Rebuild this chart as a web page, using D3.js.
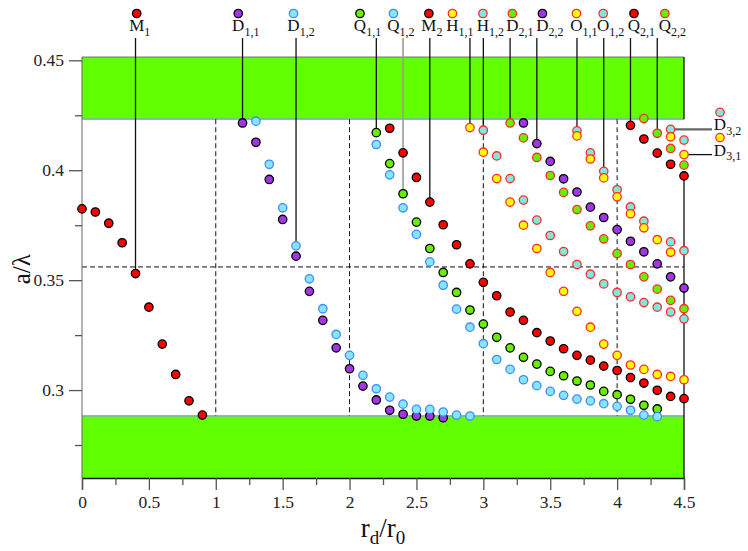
<!DOCTYPE html>
<meta charset="utf-8">
<style>
    body { margin: 0; background: #fff; }
    svg text { font-family: "Times New Roman", "Liberation Serif", Times, "DejaVu Serif", serif; }
</style>
<body>
    <div id="chart"></div>
</body>
<script src="https://cdn.jsdelivr.net/npm/d3@7/dist/d3.min.js"></script>
<script>
    var svg_width = 748,
        svg_height = 551;

    var serif = '"Times New Roman", "Liberation Serif", Times, "DejaVu Serif", serif';

    // bands (gaps) and guide lines, in axis units
    var upperBand = [0.4232, 0.4515];
    var lowerBand = [0.26, 0.2883];
    var guideX = [1, 2, 3, 4];
    var guideY = 0.356;

    // mode curves: [r_d/r_0, a/lambda]
    var M1 = [[0,0.3824],[0.1,0.3810],[0.2,0.3759],[0.3,0.3670],[0.4,0.3530],[0.5,0.3377],[0.6,0.3209],[0.7,0.3071],[0.8,0.2951],[0.9,0.2886]];
    var M2 = [[2.3,0.4191],[2.4,0.4079],[2.5,0.3967],[2.6,0.3855],[2.7,0.3752],[2.8,0.3661],[2.9,0.3574],[3.0,0.3490],[3.1,0.3429],[3.2,0.3355],[3.3,0.3317],[3.4,0.3261],[3.5,0.3223],[3.6,0.3188],[3.7,0.3158],[3.8,0.3136],[3.9,0.3109],[4.0,0.3089],[4.1,0.3057],[4.2,0.3032],[4.3,0.2999],[4.4,0.2971],[4.5,0.2961]];
    var D11 = [[1.2,0.4215],[1.3,0.4127],[1.4,0.3958],[1.5,0.3776],[1.6,0.3609],[1.7,0.3449],[1.8,0.3317],[1.9,0.3192],[2.0,0.3097],[2.1,0.3018],[2.2,0.2955],[2.3,0.2908],[2.4,0.2890],[2.5,0.2882],[2.6,0.2882],[2.7,0.2874]];
    var D12 = [[1.3,0.4223],[1.4,0.4027],[1.5,0.3829],[1.6,0.3656],[1.7,0.3506],[1.8,0.3370],[1.9,0.3253],[2.0,0.3158],[2.1,0.3067],[2.2,0.3006],[2.3,0.2968],[2.4,0.2936],[2.5,0.2912],[2.6,0.2912],[2.7,0.2900],[2.8,0.2886],[2.9,0.2882]];
    var Q11 = [[2.2,0.4171],[2.3,0.4030],[2.4,0.3893],[2.5,0.3764],[2.6,0.3644],[2.7,0.3535],[2.8,0.3444],[2.9,0.3364],[3.0,0.3300],[3.1,0.3240],[3.2,0.3192],[3.3,0.3149],[3.4,0.3118],[3.5,0.3085],[3.6,0.3065],[3.7,0.3041],[3.8,0.3023],[3.9,0.2994],[4.0,0.2979],[4.1,0.2958],[4.2,0.2931],[4.3,0.2914]];
    var Q12 = [[2.2,0.4117],[2.3,0.3979],[2.4,0.3829],[2.5,0.3708],[2.6,0.3583],[2.7,0.3477],[2.8,0.3368],[2.9,0.3286],[3.0,0.3211],[3.1,0.3139],[3.2,0.3094],[3.3,0.3047],[3.4,0.3020],[3.5,0.2994],[3.6,0.2976],[3.7,0.2959],[3.8,0.2951],[3.9,0.2938],[4.0,0.2926],[4.1,0.2908],[4.2,0.2886],[4.3,0.2879]];
    var H11 = [[2.9,0.4194],[3.0,0.4082],[3.1,0.3962],[3.2,0.3855],[3.3,0.3750],[3.4,0.3644],[3.5,0.3535],[3.6,0.3449],[3.7,0.3358],[3.8,0.3286],[3.9,0.3209],[4.0,0.3158],[4.1,0.3114],[4.2,0.3094],[4.3,0.3071],[4.4,0.3062],[4.5,0.3047]];
    var H12 = [[3.0,0.4182],[3.1,0.4065],[3.2,0.3962],[3.3,0.3864],[3.4,0.3773],[3.5,0.3703],[3.6,0.3630],[3.7,0.3571],[3.8,0.3527],[3.9,0.3483],[4.0,0.3444],[4.1,0.3424],[4.2,0.3398],[4.3,0.3377],[4.4,0.3355],[4.5,0.3324]];
    var D21 = [[3.2,0.4215],[3.3,0.4147],[3.4,0.4058],[3.5,0.3976],[3.6,0.3899],[3.7,0.3821],[3.8,0.3747],[3.9,0.3688],[4.0,0.3621],[4.1,0.3571],[4.2,0.3515],[4.3,0.3459],[4.4,0.3408],[4.5,0.3370]];
    var D22 = [[3.3,0.4215],[3.4,0.4121],[3.5,0.4040],[3.6,0.3961],[3.7,0.3901],[3.8,0.3832],[3.9,0.3785],[4.0,0.3730],[4.1,0.3677],[4.2,0.3629],[4.3,0.3574],[4.4,0.3515],[4.5,0.3464]];
    var O11 = [[3.7,0.4156],[3.8,0.4051],[3.9,0.3965],[4.0,0.3879],[4.1,0.3802],[4.2,0.3738],[4.3,0.3684],[4.4,0.3627]];
    var O12 = [[3.7,0.4179],[3.8,0.4079],[3.9,0.3995],[4.0,0.3911],[4.1,0.3833],[4.2,0.3768],[4.4,0.3674],[4.5,0.3634]];
    var Q21 = [[4.1,0.4204],[4.2,0.4142],[4.3,0.4078],[4.4,0.4027],[4.5,0.3974]];
    var Q22 = [[4.2,0.4235],[4.3,0.4168],[4.4,0.4099],[4.5,0.4023]];
    var D31 = [[4.4,0.4152],[4.5,0.4071]];
    var D32 = [[4.4,0.4186],[4.5,0.4137]];

    // labels along the top
    var tagName = ["M","D","D","Q","Q","M","H","H","D","D","O","O","Q","Q"];
    var tagSub  = ["1","1,1","1,2","1,1","1,2","2","1,1","1,2","2,1","2,2","1,1","1,2","2,1","2,2"];
    var tagAt   = [0.409,1.168,1.581,2.078,2.328,2.593,2.769,2.997,3.217,3.442,3.696,3.896,4.126,4.357];
    var tagPoint = [[0.4,0.3530],[1.2,0.4215],[1.6,0.3656],[2.2,0.4171],[2.4,0.3893],[2.6,0.3855],[2.9,0.4194],[3.0,0.4182],[3.2,0.4215],[3.4,0.4121],[3.7,0.4156],[3.9,0.3995],[4.1,0.4204],[4.3,0.4168]];
    var tagStyle = ["M","D11","D12","Q11","Q12","M","H11","H12","D21","D22","O11","O12","Q21","Q22"];

    var xMajor = [0,0.5,1,1.5,2,2.5,3,3.5,4,4.5];
    var xMinor = [0.25,0.75,1.25,1.75,2.25,2.75,3.25,3.75,4.25];
    var yMajor = [0.3,0.35,0.4,0.45];
    var yMinor = [0.275,0.325,0.375,0.425];

    var red = "#ff0000", purple = "#a236e6", lime = "#66f000", yellow = "#ffff00",
        sky = "#88e4ff", turq = "#80e8da", edgeRed = "#ff2a2a", edgeBlue = "#3b8cff";

    var styles = {
        M:   { fill: red,    stroke: "#000" },
        D11: { fill: purple, stroke: "#000" },
        D12: { fill: sky,    stroke: edgeBlue },
        Q11: { fill: lime,   stroke: "#000" },
        Q12: { fill: sky,    stroke: edgeBlue },
        H11: { fill: yellow, stroke: edgeRed },
        H12: { fill: turq,   stroke: edgeRed },
        D21: { fill: lime,   stroke: edgeRed },
        D22: { fill: purple, stroke: "#000" },
        O11: { fill: yellow, stroke: edgeRed },
        O12: { fill: turq,   stroke: edgeRed },
        Q21: { fill: red,    stroke: "#000" },
        Q22: { fill: lime,   stroke: edgeRed },
        D31: { fill: yellow, stroke: edgeRed },
        D32: { fill: turq,   stroke: edgeRed }
    };

    var series = [
        { key: "M", pts: M1 }, { key: "D11", pts: D11 }, { key: "D12", pts: D12 },
        { key: "M", pts: M2 }, { key: "Q11", pts: Q11 }, { key: "Q12", pts: Q12 },
        { key: "H11", pts: H11 }, { key: "H12", pts: H12 },
        { key: "D21", pts: D21 }, { key: "D22", pts: D22 },
        { key: "O12", pts: O12 }, { key: "O11", pts: O11 },
        { key: "Q21", pts: Q21 }, { key: "Q22", pts: Q22 },
        { key: "D32", pts: D32 }, { key: "D31", pts: D31 }
    ];

    var x = d3.scaleLinear().domain([0, 4.5]).range([82, 684]);
    var y = d3.scaleLinear().domain([0.26, 0.4515]).range([478, 57]);
    var r = 4.2;

    var svg = d3.select("#chart").append("svg")
        .attr("width", svg_width)
        .attr("height", svg_height)
        .style("font-family", serif);

    // green bands
    [upperBand, lowerBand].forEach(function(b){
        svg.append("rect")
            .attr("x", x(0)).attr("width", x(4.5) - x(0))
            .attr("y", y(b[1])).attr("height", y(b[0]) - y(b[1]))
            .style("fill", "#62ff00");
    });
    svg.append("line")
        .attr("x1", x(0)).attr("x2", x(4.5))
        .attr("y1", y(upperBand[1])).attr("y2", y(upperBand[1]))
        .style("stroke", "#555").style("stroke-width", 0.8);
    [upperBand[0], lowerBand[1]].forEach(function(v){
        svg.append("line")
            .attr("x1", x(0)).attr("x2", x(4.5))
            .attr("y1", y(v)).attr("y2", y(v))
            .style("stroke", "#8a8aff").style("stroke-width", 1.3);
    });

    // dashed guides
    var guides = svg.append("g")
        .style("stroke", "#111").style("stroke-width", 1).style("stroke-dasharray", "5,3");
    guides.selectAll("line.v").data(guideX).enter().append("line")
        .attr("class", "v")
        .attr("x1", function(d){ return x(d); }).attr("x2", function(d){ return x(d); })
        .attr("y1", y(upperBand[0])).attr("y2", y(lowerBand[1]));
    guides.append("line")
        .attr("x1", x(0)).attr("x2", x(4.5))
        .attr("y1", y(guideY)).attr("y2", y(guideY));

    // axes
    var fmt = function(d){ return String(+d.toFixed(2)); };
    var gx = svg.append("g").attr("transform", "translate(0," + y(0.26) + ")");
    gx.call(d3.axisBottom(x).tickValues(xMajor).tickSize(12).tickPadding(6).tickFormat(fmt));
    gx.append("g").call(d3.axisBottom(x).tickValues(xMinor).tickSize(7).tickFormat(""))
        .select(".domain").remove();

    var gy = svg.append("g").attr("transform", "translate(" + x(0) + ",0)");
    gy.call(d3.axisLeft(y).tickValues(yMajor).tickSize(13).tickPadding(5).tickFormat(fmt));
    gy.append("g").call(d3.axisLeft(y).tickValues(yMinor).tickSize(7).tickFormat(""))
        .select(".domain").remove();
    gy.select(".domain").attr("d", "M0," + y(0.4515) + "V" + y(0.26)).style("stroke", "#666");

    svg.selectAll("g").attr("font-family", null);
    svg.selectAll(".tick line").style("stroke", "#555").style("stroke-width", 1.3);
    svg.selectAll(".tick text")
        .style("font-family", serif).style("font-size", "17.5px").style("fill", "#222");
    gx.select(".domain").style("stroke", "#111").style("stroke-width", 1.3);

    // right frame: only over the top band and below the Q2,1 point
    svg.append("path")
        .attr("d", "M" + x(4.5) + "," + y(upperBand[1]) + "V" + y(upperBand[0]) +
                   "M" + x(4.5) + "," + y(Q21[Q21.length - 1][1]) + "V" + y(0.26))
        .style("stroke", "#111").style("stroke-width", 1.3).style("fill", "none");

    // leader lines from the top labels
    var top_line = 38, top_mark = 13.5, top_text = 31;
    svg.append("g").selectAll("line")
        .data(tagPoint).enter().append("line")
            .attr("x1", function(d){ return x(d[0]); })
            .attr("x2", function(d){ return x(d[0]); })
            .attr("y1", top_line)
            .attr("y2", function(d){ return y(d[1]); })
            .style("stroke", function(d, i){ return tagStyle[i] == "Q12" ? "#9a9a9a" : "#111"; })
            .style("stroke-width", function(d, i){ return tagStyle[i] == "Q12" ? 1.6 : 1.3; });

    // right-hand labels D3,1 and D3,2
    var side_x = x(4.5) + 28;
    var sideTags = [{ sub: "3,2", pt: D32[0], key: "D32", col: "#666", w: 2.2 },
                    { sub: "3,1", pt: D31[1], key: "D31", col: "#111", w: 1.3 }];
    sideTags.forEach(function(t){
        var yy = y(t.pt[1]);
        svg.append("line")
            .attr("x1", x(t.pt[0])).attr("x2", side_x)
            .attr("y1", yy).attr("y2", yy)
            .style("stroke", t.col).style("stroke-width", t.w);
    });

    // points
    var dots = svg.append("g");
    series.forEach(function(s){
        dots.append("g").selectAll("circle")
            .data(s.pts).enter().append("circle")
                .attr("cx", function(d){ return x(d[0]); })
                .attr("cy", function(d){ return y(d[1]); })
                .attr("r", r)
                .style("fill", styles[s.key].fill)
                .style("stroke", styles[s.key].stroke)
                .style("stroke-width", 1.3);
    });

    // top label text + marker
    function add_tag(cx, base, name, sub, key, mark_y){
        var t = svg.append("text").attr("y", base)
            .style("font-family", serif).style("font-size", "17px").style("fill", "#111");
        var main = t.append("tspan").text(name);
        t.append("tspan").attr("dy", 4.5).style("font-size", "12px").text(sub);
        var w = main.node().getComputedTextLength();
        t.attr("x", cx - w / 2);
        svg.append("circle")
            .attr("cx", cx).attr("cy", mark_y).attr("r", r)
            .style("fill", styles[key].fill)
            .style("stroke", styles[key].stroke)
            .style("stroke-width", 1.3);
    }
    tagName.forEach(function(n, i){
        add_tag(x(tagAt[i]), top_text, n, tagSub[i], tagStyle[i], top_mark);
    });
    sideTags.forEach(function(t){
        var yy = y(t.pt[1]);
        add_tag(side_x + 8, yy + 1, "D", t.sub, t.key, yy - 17);
    });

    // axis titles
    var xt = svg.append("text")
        .attr("x", (x(0) + x(4.5)) / 2).attr("y", 537)
        .attr("text-anchor", "middle")
        .style("font-family", serif).style("font-size", "27px").style("fill", "#111");
    xt.append("tspan").text("r");
    xt.append("tspan").attr("dy", 7).style("font-size", "19px").text("d");
    xt.append("tspan").attr("dy", -7).text("/r");
    xt.append("tspan").attr("dy", 7).style("font-size", "19px").text("0");

    svg.append("text")
        .attr("transform", "translate(30," + (y(0.355)) + ") rotate(-90)")
        .attr("text-anchor", "middle")
        .style("font-family", serif).style("font-size", "25px").style("fill", "#111")
        .text("a/λ");
</script>
